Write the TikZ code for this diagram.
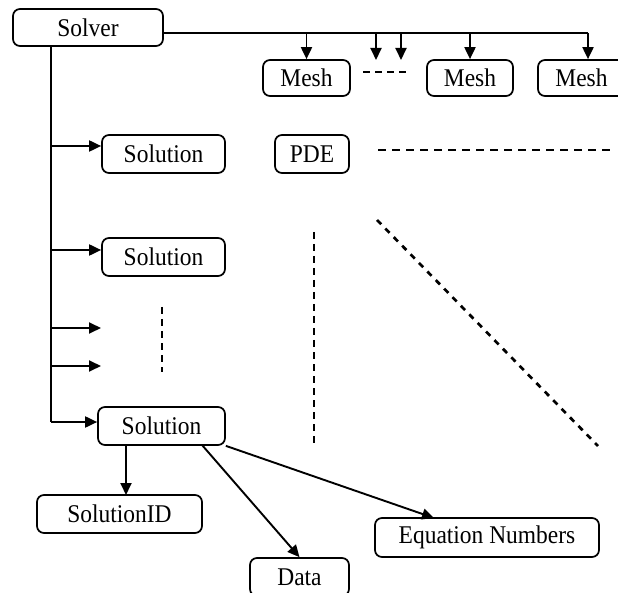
\documentclass[tikz,border=0pt]{standalone}
\usepackage{fontspec}
\setmainfont[FakeStretch=0.92]{Liberation Serif}
\usetikzlibrary{arrows.meta}
\begin{document}
\begin{tikzpicture}[x=1pt,y=-1pt,
  box/.style={draw,line width=1.7pt,rounded corners=7pt,inner sep=0pt,
    minimum height=38pt,font=\fontsize{25.5}{27}\selectfont},
  link/.style={line width=1.9pt},
  arr/.style={link,-{Triangle[length=12pt,width=11pt]}},
  dotline/.style={line width=1.5pt,dash pattern=on 7pt off 5pt}]
\useasboundingbox (0,0) rectangle (618,593);
% boxes
\node[box,minimum width=150pt,minimum height=37pt] (solver) at (88,27.5) {Solver};
\node[box,minimum width=87pt,minimum height=36pt] (mesh1) at (306.5,78) {Mesh};
\node[box,minimum width=86pt,minimum height=36pt] (mesh2) at (470,78) {Mesh};
\node[box,minimum width=87pt,minimum height=36pt] (mesh3) at (581.5,78) {Mesh};
\node[box,minimum width=123pt] (sol1) at (163.5,154) {Solution};
\node[box,minimum width=74pt] (pde) at (312,154) {PDE};
\node[box,minimum width=123pt] (sol2) at (163.5,257) {Solution};
\node[box,minimum width=127pt] (sol3) at (161.5,426) {Solution};
\node[box,minimum width=165pt] (sid) at (119.5,514) {SolutionID};
\node[box,minimum width=99pt] (data) at (299.5,577) {Data};
\node[box,minimum width=224pt,minimum height=39pt] (eqn) at (487,537.5) {Equation Numbers};
% points on the two buses
\coordinate (hbus) at (solver.east |- 0,33);
\coordinate (hend) at (588,33);
\coordinate (t1) at (376,33);
\coordinate (t2) at (401,33);
\coordinate (b1) at (376,60);
\coordinate (b2) at (401,60);
\coordinate (vtop) at (51,46);
\coordinate (r1) at (51,146);
\coordinate (r2) at (51,250);
\coordinate (r3) at (51,328);
\coordinate (r4) at (51,366);
\coordinate (vbot) at (51,422);
\coordinate (e3) at (101,328);
\coordinate (e4) at (101,366);
% Solver -> Mesh bus
\draw[link] (hbus) -- (hend);
\draw[arr] (mesh1.north |- hbus) -- (mesh1.north);
\draw[arr] (t1) -- (b1);
\draw[arr] (t2) -- (b2);
\draw[arr] (mesh2.north |- hbus) -- (mesh2.north);
\draw[arr] (hend) -- (hend |- mesh3.north);
% Solver -> Solution bus
\draw[link] (vtop) -- (vbot);
\draw[arr] (r1) -- (r1 -| sol1.west);
\draw[arr] (r2) -- (r2 -| sol2.west);
\draw[arr] (r3) -- (e3);
\draw[arr] (r4) -- (e4);
\draw[arr] (vbot) -- (vbot -| sol3.west);
% Solution -> its parts
\draw[arr] (126,445) -- (126,495);
\draw[arr] (202,445) -- (data.north);
\draw[arr] (sol3.south east) -- (434,518);
% ellipsis dashes
\draw[dotline] (363,72) -- (408,72);
\draw[dotline,dash pattern=on 8pt off 6pt] (378,150) -- (614,150);
\draw[dotline] (162,307) -- (162,372);
\draw[dotline] (314,232) -- (314,447);
\draw[line width=2.7pt,dash pattern=on 6pt off 6pt] (377,220) -- (598,446);
\end{tikzpicture}
\end{document}
